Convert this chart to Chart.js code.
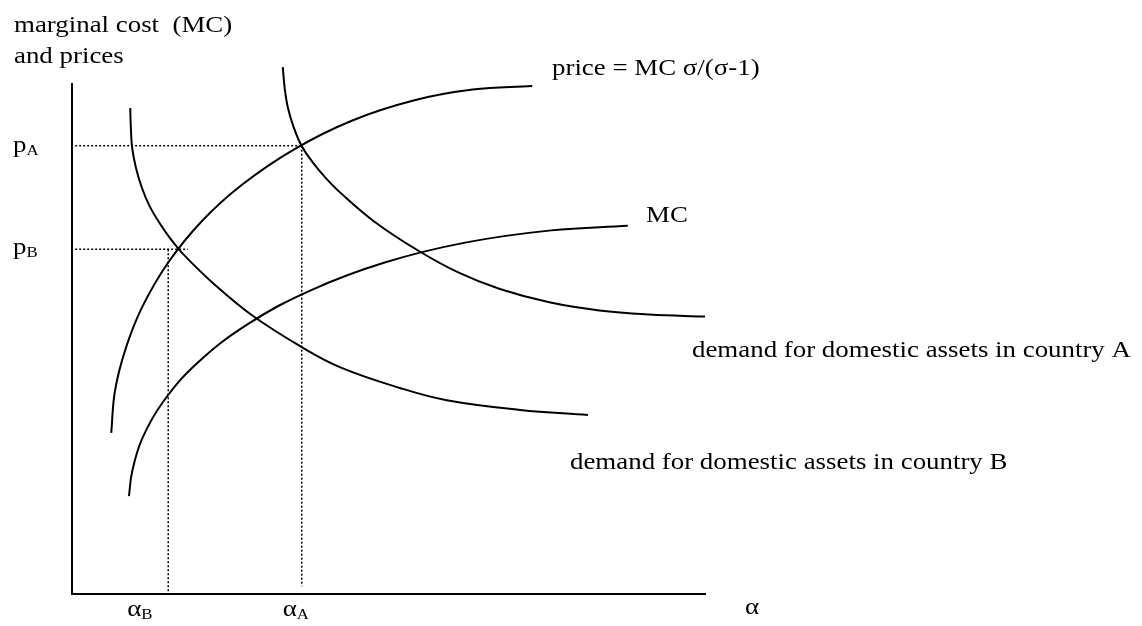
<!DOCTYPE html>
<html>
<head>
<meta charset="utf-8">
<script src="https://cdn.jsdelivr.net/npm/chart.js@4/dist/chart.umd.min.js"></script>
<style>
  html, body { margin: 0; padding: 0; background: #fff; }
  #wrap { width: 1142px; height: 626px; }
</style>
</head>
<body>
<div id="wrap"><canvas id="chart" width="1142" height="626"></canvas></div>
<script>
// curves (alpha on x, price / cost on y, both 0..10)
const priceCurveX = [0.62, 0.68, 0.85, 1.11, 1.52, 2.05, 2.69, 3.51, 4.42, 5.41, 6.33, 7.27];
const priceCurveY = [3.16, 3.99, 4.82, 5.63, 6.50, 7.31, 8.03, 8.72, 9.28, 9.68, 9.89, 9.96];

const mcCurveX = [0.90, 0.95, 1.11, 1.44, 1.98, 2.79, 3.78, 4.94, 6.21, 7.57, 8.78];
const mcCurveY = [1.92, 2.40, 3.05, 3.77, 4.53, 5.30, 5.96, 6.50, 6.89, 7.13, 7.22];

const demandBX = [0.92, 0.93, 0.95, 1.01, 1.10, 1.22, 1.38, 1.56, 1.76, 2.26, 2.86, 3.63, 4.23, 5.18, 5.92, 7.08, 8.15];
const demandBY = [9.53, 9.14, 8.75, 8.36, 7.98, 7.62, 7.28, 6.96, 6.66, 6.06, 5.45, 4.84, 4.45, 4.04, 3.80, 3.61, 3.51];

const demandAX = [3.33, 3.36, 3.41, 3.50, 3.63, 3.80, 4.00, 4.23, 4.79, 5.46, 6.11, 6.76, 7.54, 8.33, 9.12, 10.00];
const demandAY = [10.33, 9.92, 9.54, 9.16, 8.78, 8.47, 8.17, 7.88, 7.29, 6.74, 6.30, 5.98, 5.72, 5.56, 5.48, 5.44];

// equilibrium points
const alphaA = 3.63;
const alphaB = 1.52;
const priceA = 8.79;
const priceB = 6.76;
const priceBLineEnd = 1.83;

const curveLabels = ['price = MC \u03c3/(\u03c3-1)', 'MC',
  'demand for domestic assets in country A', 'demand for domestic assets in country B'];
const axisLabels = ['marginal cost  (MC)', 'and prices', '\u03b1'];

function pts(xs, ys) {
  return xs.map((x, i) => ({x: x, y: ys[i]}));
}

const curve = {
  borderColor: '#000',
  borderWidth: 2,
  pointRadius: 0,
  showLine: true,
  tension: 0.4,
  clip: false
};
const dotted = {
  borderColor: '#000',
  borderWidth: 1.5,
  borderDash: [2, 2],
  pointRadius: 0,
  showLine: true,
  clip: false
};

const FONT = '"Liberation Serif", "Times New Roman", serif';
const STRETCH = 1.12;

function txt(ctx, s, x, y, size) {
  ctx.save();
  ctx.translate(x, y);
  ctx.scale(STRETCH, 1);
  ctx.font = size + 'px ' + FONT;
  ctx.fillText(s, 0, 0);
  const w = ctx.measureText(s).width * STRETCH;
  ctx.restore();
  return w;
}

function subTxt(ctx, s, sub, x, y, size, subSize) {
  const w = txt(ctx, s, x, y, size);
  txt(ctx, sub, x + w, y + 3, subSize);
}

const labelsPlugin = {
  id: 'labels',
  afterDraw(chart) {
    const ctx = chart.ctx;
    const xs = chart.scales.x, ys = chart.scales.y;
    ctx.save();
    ctx.fillStyle = '#000';
    ctx.textBaseline = 'alphabetic';
    txt(ctx, axisLabels[0], 14, 32, 24);
    txt(ctx, axisLabels[1], 14, 63, 24);
    txt(ctx, curveLabels[0], 552, 75, 24);
    txt(ctx, curveLabels[1], 646, 222, 24);
    txt(ctx, curveLabels[2], 692, 357, 24);
    txt(ctx, curveLabels[3], 570, 469, 24);
    subTxt(ctx, 'p', 'A', 13, ys.getPixelForValue(priceA) + 6, 24, 15);
    subTxt(ctx, 'p', 'B', 13, ys.getPixelForValue(priceB) + 5, 24, 15);
    subTxt(ctx, '\u03b1', 'B', xs.getPixelForValue(alphaB) - 41, 616, 24, 15);
    subTxt(ctx, '\u03b1', 'A', xs.getPixelForValue(alphaA) - 19, 616, 24, 15);
    txt(ctx, axisLabels[2], 745, 614, 24);
    ctx.restore();
  }
};

new Chart(document.getElementById('chart'), {
  type: 'scatter',
  data: {
    datasets: [
      Object.assign({label: 'price', data: pts(priceCurveX, priceCurveY)}, curve),
      Object.assign({label: 'MC', data: pts(mcCurveX, mcCurveY)}, curve),
      Object.assign({label: 'demand A', data: pts(demandAX, demandAY)}, curve),
      Object.assign({label: 'demand B', data: pts(demandBX, demandBY)}, curve),
      Object.assign({label: 'pA h', data: [{x: 0.05, y: priceA}, {x: alphaA, y: priceA}]}, dotted),
      Object.assign({label: 'pA v', data: [{x: alphaA, y: priceA}, {x: alphaA, y: 0.15}]}, dotted),
      Object.assign({label: 'pB h', data: [{x: 0.05, y: priceB}, {x: priceBLineEnd, y: priceB}]}, dotted),
      Object.assign({label: 'pB v', data: [{x: alphaB, y: priceB}, {x: alphaB, y: 0}]}, dotted)
    ]
  },
  options: {
    responsive: false,
    animation: false,
    layout: {
      padding: {left: 72, right: 437, top: 84, bottom: 32}
    },
    plugins: {
      legend: {display: false},
      tooltip: {enabled: false}
    },
    scales: {
      x: {
        type: 'linear',
        min: 0,
        max: 10,
        ticks: {display: false},
        grid: {display: false, drawTicks: false, tickLength: 0},
        border: {display: true, color: '#000', width: 2}
      },
      y: {
        type: 'linear',
        min: 0,
        max: 10,
        ticks: {display: false},
        grid: {display: false, drawTicks: false, tickLength: 0},
        border: {display: true, color: '#000', width: 2}
      }
    }
  },
  plugins: [labelsPlugin]
});
</script>
</body>
</html>
